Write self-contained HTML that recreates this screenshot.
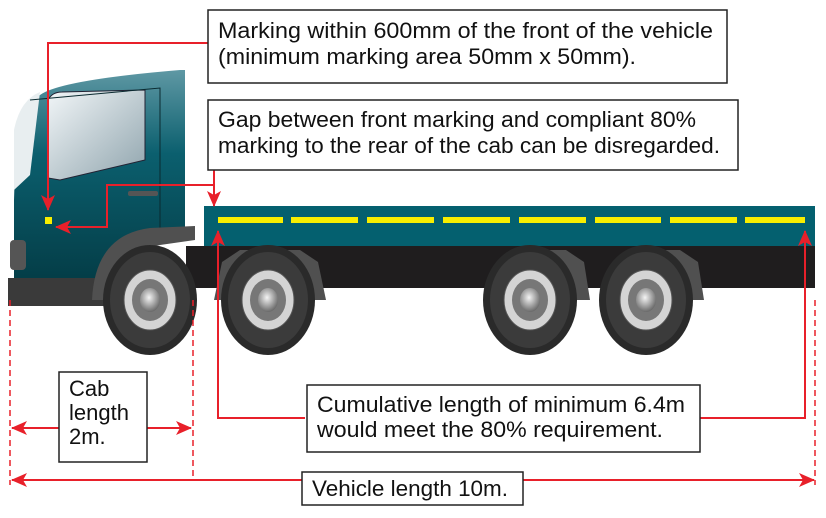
<!DOCTYPE html>
<html><head><meta charset="utf-8"><style>
html,body{margin:0;padding:0;background:#fff;}
svg{display:block;}
text{font-family:"Liberation Sans Narrow","Liberation Sans",sans-serif;font-size:22px;fill:#111;}
</style></head><body>
<svg width="826" height="518" viewBox="0 0 826 518" xmlns="http://www.w3.org/2000/svg">
<defs>
<linearGradient id="cab" x1="0" y1="0" x2="0" y2="1">
<stop offset="0" stop-color="#5f98a4"/><stop offset="0.4" stop-color="#0b5f6e"/><stop offset="1" stop-color="#043d47"/></linearGradient>
<linearGradient id="win" x1="0" y1="0" x2="1" y2="1"><stop offset="0" stop-color="#f2f6f8"/><stop offset="1" stop-color="#8fa4ad"/></linearGradient>
<radialGradient id="hub" cx="0.45" cy="0.4" r="0.6"><stop offset="0" stop-color="#f4f4f4"/><stop offset="1" stop-color="#6a6a6a"/></radialGradient>
<marker id="ar" markerWidth="16" markerHeight="14" refX="15" refY="7" orient="auto" markerUnits="userSpaceOnUse"><path d="M0,0 L16,7 L0,14 L4,7z" fill="#e8202a"/></marker>
<g id="wheel">
<ellipse cx="0" cy="0" rx="47" ry="55" fill="#2a2a2a"/>
<ellipse cx="0" cy="0" rx="40" ry="48" fill="#3b3b3b"/>
<ellipse cx="0" cy="0" rx="26" ry="30" fill="#d4d4d4" stroke="#555"/>
<ellipse cx="0" cy="0" rx="18" ry="21" fill="#777"/>
<ellipse cx="0" cy="0" rx="10" ry="12" fill="url(#hub)"/>
</g>
</defs>
<!-- cab -->
<path d="M14,200 Q16,110 40,95 Q60,80 180,70 L185,70 L185,240 L110,250 L95,280 L14,280 Z" fill="url(#cab)"/>
<path d="M14,130 Q20,100 40,92 L30,175 L14,190Z" fill="#e8eef0"/>
<path d="M48,100 Q52,92 62,92 L145,90 L145,160 L60,180 L48,178Z" fill="url(#win)" stroke="#223" stroke-width="1"/>
<path d="M30,100 L160,88 L160,240" fill="none" stroke="#0a2a30" stroke-width="1"/>
<rect x="128" y="191" width="30" height="5" rx="2" fill="#555"/>
<rect x="8" y="278" width="100" height="28" fill="#3a3a3a"/>
<rect x="10" y="240" width="16" height="30" rx="4" fill="#555"/>
<path d="M92,300 Q95,235 150,228 L195,226 L195,240 L160,245 Q110,255 108,300Z" fill="#505050"/>
<!-- bed -->
<rect x="204" y="206" width="611" height="41" fill="#04606f"/>
<rect x="186" y="246" width="629" height="42" fill="#1f1d1e"/>
<g fill="#f8ee00">
<rect x="218" y="217" width="65" height="6"/><rect x="291" y="217" width="67" height="6"/><rect x="367" y="217" width="67" height="6"/><rect x="443" y="217" width="67" height="6"/><rect x="519" y="217" width="67" height="6"/><rect x="595" y="217" width="66" height="6"/><rect x="670" y="217" width="67" height="6"/><rect x="745" y="217" width="60" height="6"/>
</g>
<rect x="45" y="217" width="7" height="7" fill="#f8ee00"/>
<path d="M214,300 L222,262 L240,250 L300,250 L318,262 L326,300 Z" fill="#505050"/>
<path d="M496,300 L504,262 L522,250 L566,250 L584,262 L590,300 Z" fill="#505050"/>
<path d="M612,300 L620,262 L638,250 L680,250 L698,262 L704,300 Z" fill="#505050"/>
<use href="#wheel" x="150" y="300"/>
<use href="#wheel" x="268" y="300"/>
<use href="#wheel" x="530" y="300"/>
<use href="#wheel" x="646" y="300"/>
<!-- red callouts -->
<g stroke="#e8202a" stroke-width="2" fill="none">
<path d="M208,43 L48,43 L48,210" marker-end="url(#ar)"/>
<path d="M214,170 L214,206" marker-end="url(#ar)"/>
<path d="M214,185 L107,185 L107,227 L56,227" marker-end="url(#ar)"/>
<path d="M305,418 L218,418 L218,231" marker-end="url(#ar)"/>
<path d="M700,418 L805,418 L805,231" marker-end="url(#ar)"/>
<path d="M59,428 L12,428" marker-end="url(#ar)"/>
<path d="M147,428 L191,428" marker-end="url(#ar)"/>
<path d="M302,480 L12,480" marker-end="url(#ar)"/>
<path d="M523,480 L814,480" marker-end="url(#ar)"/>
<path d="M10,300 L10,485 M193,300 L193,480 M815,300 L815,485" stroke-dasharray="6,4" stroke-width="1.5"/>
</g>
<g fill="#fff" stroke="#222" stroke-width="1.5">
<rect x="208" y="10" width="519" height="73"/>
<rect x="208" y="100" width="530" height="70"/>
<rect x="59" y="372" width="88" height="90"/>
<rect x="307" y="385" width="393" height="67"/>
<rect x="302" y="472" width="221" height="33"/>
</g>
<text x="218" y="38" textLength="495" lengthAdjust="spacingAndGlyphs">Marking within 600mm of the front of the vehicle</text>
<text x="218" y="64" textLength="418" lengthAdjust="spacingAndGlyphs">(minimum marking area 50mm x 50mm).</text>
<text x="218" y="127" textLength="478" lengthAdjust="spacingAndGlyphs">Gap between front marking and compliant 80%</text>
<text x="218" y="153" textLength="502" lengthAdjust="spacingAndGlyphs">marking to the rear of the cab can be disregarded.</text>
<text x="69" y="396">Cab</text>
<text x="69" y="420">length</text>
<text x="69" y="444">2m.</text>
<text x="317" y="412" textLength="368" lengthAdjust="spacingAndGlyphs">Cumulative length of minimum 6.4m</text>
<text x="317" y="437" textLength="346" lengthAdjust="spacingAndGlyphs">would meet the 80% requirement.</text>
<text x="312" y="496" textLength="196" lengthAdjust="spacingAndGlyphs">Vehicle length 10m.</text>
</svg>
</body></html>
